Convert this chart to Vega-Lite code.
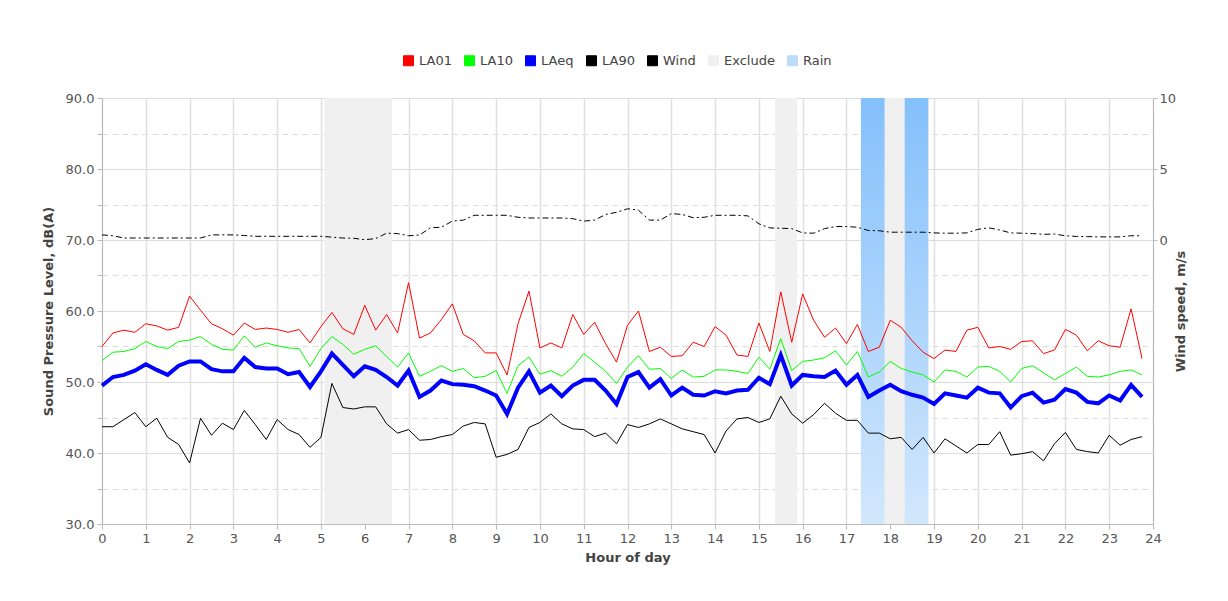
{
  "$schema": "https://vega.github.io/schema/vega-lite/v6.json",
  "width": 1051,
  "height": 426,
  "autosize": {"type": "none"},
  "padding": {"left": 102, "top": 98, "right": 75, "bottom": 77},
  "background": "white",
  "config": {
    "font": "DejaVu Sans",
    "view": {"stroke": null},
    "legend": {"symbolStrokeColor": "#444", "symbolStrokeWidth": 1, "symbolType": "square", "symbolSize": 100}
  },
  "datasets": {
    "periods": [
      {"type": "Exclude", "start": 5.08, "end": 6.62},
      {"type": "Exclude", "start": 15.37, "end": 15.87},
      {"type": "Exclude", "start": 17.33, "end": 18.87},
      {"type": "Rain", "start": 17.33, "end": 17.87},
      {"type": "Rain", "start": 18.33, "end": 18.87}
    ],
    "levels": [
      {"hour": 0.0, "LA01": 55.0, "LA10": 53.0, "LAeq": 49.5, "LA90": 43.7, "Wind": 0.36},
      {"hour": 0.25, "LA01": 56.9, "LA10": 54.2, "LAeq": 50.7, "LA90": 43.7, "Wind": 0.3},
      {"hour": 0.5, "LA01": 57.3, "LA10": 54.3, "LAeq": 51.0, "LA90": 44.7, "Wind": 0.14},
      {"hour": 0.75, "LA01": 57.0, "LA10": 54.7, "LAeq": 51.6, "LA90": 45.7, "Wind": 0.14},
      {"hour": 1.0, "LA01": 58.2, "LA10": 55.7, "LAeq": 52.5, "LA90": 43.7, "Wind": 0.14},
      {"hour": 1.25, "LA01": 57.9, "LA10": 55.0, "LAeq": 51.7, "LA90": 44.9, "Wind": 0.14},
      {"hour": 1.5, "LA01": 57.3, "LA10": 54.7, "LAeq": 51.0, "LA90": 42.2, "Wind": 0.14},
      {"hour": 1.75, "LA01": 57.7, "LA10": 55.7, "LAeq": 52.3, "LA90": 41.2, "Wind": 0.14},
      {"hour": 2.0, "LA01": 62.1, "LA10": 55.9, "LAeq": 52.9, "LA90": 38.6, "Wind": 0.14},
      {"hour": 2.25, "LA01": 60.1, "LA10": 56.4, "LAeq": 52.9, "LA90": 44.9, "Wind": 0.14},
      {"hour": 2.5, "LA01": 58.2, "LA10": 55.3, "LAeq": 51.8, "LA90": 42.5, "Wind": 0.36},
      {"hour": 2.75, "LA01": 57.5, "LA10": 54.6, "LAeq": 51.5, "LA90": 44.2, "Wind": 0.36},
      {"hour": 3.0, "LA01": 56.6, "LA10": 54.5, "LAeq": 51.5, "LA90": 43.3, "Wind": 0.36},
      {"hour": 3.25, "LA01": 58.3, "LA10": 56.5, "LAeq": 53.4, "LA90": 46.0, "Wind": 0.32},
      {"hour": 3.5, "LA01": 57.4, "LA10": 54.9, "LAeq": 52.1, "LA90": 44.0, "Wind": 0.26},
      {"hour": 3.75, "LA01": 57.6, "LA10": 55.5, "LAeq": 51.9, "LA90": 41.9, "Wind": 0.26},
      {"hour": 4.0, "LA01": 57.4, "LA10": 55.1, "LAeq": 51.9, "LA90": 44.7, "Wind": 0.26},
      {"hour": 4.25, "LA01": 57.0, "LA10": 54.8, "LAeq": 51.1, "LA90": 43.3, "Wind": 0.26},
      {"hour": 4.5, "LA01": 57.4, "LA10": 54.7, "LAeq": 51.4, "LA90": 42.6, "Wind": 0.26},
      {"hour": 4.75, "LA01": 55.5, "LA10": 52.2, "LAeq": 49.3, "LA90": 40.8, "Wind": 0.26},
      {"hour": 5.0, "LA01": 57.8, "LA10": 54.7, "LAeq": 51.5, "LA90": 42.2, "Wind": 0.26},
      {"hour": 5.25, "LA01": 59.8, "LA10": 56.4, "LAeq": 54.0, "LA90": 49.8, "Wind": 0.2},
      {"hour": 5.5, "LA01": 57.5, "LA10": 55.3, "LAeq": 52.4, "LA90": 46.4, "Wind": 0.14},
      {"hour": 5.75, "LA01": 56.7, "LA10": 53.9, "LAeq": 50.8, "LA90": 46.2, "Wind": 0.12},
      {"hour": 6.0, "LA01": 60.8, "LA10": 54.6, "LAeq": 52.2, "LA90": 46.5, "Wind": 0.02},
      {"hour": 6.25, "LA01": 57.3, "LA10": 55.1, "LAeq": 51.7, "LA90": 46.5, "Wind": 0.1},
      {"hour": 6.5, "LA01": 59.5, "LA10": 53.6, "LAeq": 50.7, "LA90": 44.1, "Wind": 0.48},
      {"hour": 6.75, "LA01": 56.9, "LA10": 52.1, "LAeq": 49.5, "LA90": 42.8, "Wind": 0.45},
      {"hour": 7.0, "LA01": 64.0, "LA10": 54.1, "LAeq": 51.6, "LA90": 43.3, "Wind": 0.3},
      {"hour": 7.25, "LA01": 56.2, "LA10": 50.8, "LAeq": 47.9, "LA90": 41.8, "Wind": 0.35},
      {"hour": 7.5, "LA01": 56.9, "LA10": 51.5, "LAeq": 48.8, "LA90": 41.9, "Wind": 0.86},
      {"hour": 7.75, "LA01": 58.8, "LA10": 52.3, "LAeq": 50.2, "LA90": 42.3, "Wind": 0.9},
      {"hour": 8.0, "LA01": 61.0, "LA10": 51.5, "LAeq": 49.7, "LA90": 42.6, "Wind": 1.33},
      {"hour": 8.25, "LA01": 56.7, "LA10": 51.9, "LAeq": 49.6, "LA90": 43.8, "Wind": 1.4},
      {"hour": 8.5, "LA01": 55.8, "LA10": 50.6, "LAeq": 49.4, "LA90": 44.3, "Wind": 1.74},
      {"hour": 8.75, "LA01": 54.1, "LA10": 50.8, "LAeq": 48.8, "LA90": 44.1, "Wind": 1.74},
      {"hour": 9.0, "LA01": 54.1, "LA10": 51.6, "LAeq": 48.1, "LA90": 39.4, "Wind": 1.74},
      {"hour": 9.25, "LA01": 51.0, "LA10": 48.4, "LAeq": 45.5, "LA90": 39.8, "Wind": 1.74},
      {"hour": 9.5, "LA01": 58.2, "LA10": 52.3, "LAeq": 49.2, "LA90": 40.5, "Wind": 1.6},
      {"hour": 9.75, "LA01": 62.8, "LA10": 53.5, "LAeq": 51.5, "LA90": 43.6, "Wind": 1.55},
      {"hour": 10.0, "LA01": 54.8, "LA10": 51.1, "LAeq": 48.5, "LA90": 44.3, "Wind": 1.55},
      {"hour": 10.25, "LA01": 55.5, "LA10": 51.6, "LAeq": 49.5, "LA90": 45.5, "Wind": 1.55},
      {"hour": 10.5, "LA01": 54.8, "LA10": 50.8, "LAeq": 48.0, "LA90": 44.1, "Wind": 1.55},
      {"hour": 10.75, "LA01": 59.5, "LA10": 52.1, "LAeq": 49.5, "LA90": 43.4, "Wind": 1.5},
      {"hour": 11.0, "LA01": 56.7, "LA10": 54.0, "LAeq": 50.3, "LA90": 43.3, "Wind": 1.33},
      {"hour": 11.25, "LA01": 58.4, "LA10": 52.8, "LAeq": 50.3, "LA90": 42.3, "Wind": 1.4},
      {"hour": 11.5, "LA01": 55.4, "LA10": 51.5, "LAeq": 48.8, "LA90": 42.8, "Wind": 1.8},
      {"hour": 11.75, "LA01": 52.8, "LA10": 49.8, "LAeq": 46.9, "LA90": 41.3, "Wind": 1.95},
      {"hour": 12.0, "LA01": 58.0, "LA10": 52.1, "LAeq": 50.7, "LA90": 44.0, "Wind": 2.2},
      {"hour": 12.25, "LA01": 60.0, "LA10": 53.7, "LAeq": 51.4, "LA90": 43.6, "Wind": 2.1},
      {"hour": 12.5, "LA01": 54.3, "LA10": 51.8, "LAeq": 49.2, "LA90": 44.1, "Wind": 1.4},
      {"hour": 12.75, "LA01": 54.9, "LA10": 51.9, "LAeq": 50.4, "LA90": 44.8, "Wind": 1.4},
      {"hour": 13.0, "LA01": 53.6, "LA10": 50.5, "LAeq": 48.1, "LA90": 44.1, "Wind": 1.86},
      {"hour": 13.25, "LA01": 53.7, "LA10": 51.7, "LAeq": 49.2, "LA90": 43.4, "Wind": 1.8},
      {"hour": 13.5, "LA01": 55.6, "LA10": 50.7, "LAeq": 48.2, "LA90": 43.0, "Wind": 1.57},
      {"hour": 13.75, "LA01": 55.0, "LA10": 50.8, "LAeq": 48.1, "LA90": 42.6, "Wind": 1.6},
      {"hour": 14.0, "LA01": 57.8, "LA10": 51.7, "LAeq": 48.7, "LA90": 40.0, "Wind": 1.74},
      {"hour": 14.25, "LA01": 56.6, "LA10": 51.7, "LAeq": 48.4, "LA90": 43.1, "Wind": 1.74},
      {"hour": 14.5, "LA01": 53.8, "LA10": 51.5, "LAeq": 48.8, "LA90": 44.8, "Wind": 1.74},
      {"hour": 14.75, "LA01": 53.6, "LA10": 51.2, "LAeq": 48.9, "LA90": 45.0, "Wind": 1.7},
      {"hour": 15.0, "LA01": 58.3, "LA10": 53.5, "LAeq": 50.6, "LA90": 44.3, "Wind": 1.14},
      {"hour": 15.25, "LA01": 54.3, "LA10": 51.8, "LAeq": 49.7, "LA90": 44.8, "Wind": 0.85},
      {"hour": 15.5, "LA01": 62.7, "LA10": 56.1, "LAeq": 53.8, "LA90": 48.0, "Wind": 0.83},
      {"hour": 15.75, "LA01": 55.6, "LA10": 51.6, "LAeq": 49.5, "LA90": 45.5, "Wind": 0.8},
      {"hour": 16.0, "LA01": 62.4, "LA10": 52.9, "LAeq": 51.0, "LA90": 44.2, "Wind": 0.5},
      {"hour": 16.25, "LA01": 58.7, "LA10": 53.1, "LAeq": 50.8, "LA90": 45.4, "Wind": 0.48},
      {"hour": 16.5, "LA01": 56.3, "LA10": 53.4, "LAeq": 50.7, "LA90": 47.0, "Wind": 0.8},
      {"hour": 16.75, "LA01": 57.6, "LA10": 54.4, "LAeq": 51.6, "LA90": 45.6, "Wind": 0.95},
      {"hour": 17.0, "LA01": 55.4, "LA10": 52.4, "LAeq": 49.6, "LA90": 44.6, "Wind": 0.95},
      {"hour": 17.25, "LA01": 58.1, "LA10": 54.3, "LAeq": 51.0, "LA90": 44.6, "Wind": 0.9},
      {"hour": 17.5, "LA01": 54.3, "LA10": 50.7, "LAeq": 47.9, "LA90": 42.8, "Wind": 0.67},
      {"hour": 17.75, "LA01": 54.9, "LA10": 51.4, "LAeq": 48.8, "LA90": 42.8, "Wind": 0.65},
      {"hour": 18.0, "LA01": 58.7, "LA10": 52.9, "LAeq": 49.6, "LA90": 42.0, "Wind": 0.55},
      {"hour": 18.25, "LA01": 57.7, "LA10": 51.9, "LAeq": 48.7, "LA90": 42.2, "Wind": 0.55},
      {"hour": 18.5, "LA01": 55.8, "LA10": 51.4, "LAeq": 48.2, "LA90": 40.5, "Wind": 0.55},
      {"hour": 18.75, "LA01": 54.2, "LA10": 51.0, "LAeq": 47.8, "LA90": 42.2, "Wind": 0.55},
      {"hour": 19.0, "LA01": 53.3, "LA10": 50.0, "LAeq": 46.9, "LA90": 40.0, "Wind": 0.5},
      {"hour": 19.25, "LA01": 54.5, "LA10": 51.7, "LAeq": 48.4, "LA90": 42.0, "Wind": 0.48},
      {"hour": 19.5, "LA01": 54.3, "LA10": 51.5, "LAeq": 48.1, "LA90": 41.0, "Wind": 0.48},
      {"hour": 19.75, "LA01": 57.3, "LA10": 50.7, "LAeq": 47.8, "LA90": 40.0, "Wind": 0.5},
      {"hour": 20.0, "LA01": 57.7, "LA10": 52.1, "LAeq": 49.2, "LA90": 41.2, "Wind": 0.75},
      {"hour": 20.25, "LA01": 54.8, "LA10": 52.2, "LAeq": 48.5, "LA90": 41.2, "Wind": 0.86},
      {"hour": 20.5, "LA01": 55.0, "LA10": 51.5, "LAeq": 48.4, "LA90": 43.0, "Wind": 0.7},
      {"hour": 20.75, "LA01": 54.6, "LA10": 50.0, "LAeq": 46.4, "LA90": 39.7, "Wind": 0.5},
      {"hour": 21.0, "LA01": 55.7, "LA10": 51.9, "LAeq": 48.0, "LA90": 39.9, "Wind": 0.48},
      {"hour": 21.25, "LA01": 55.8, "LA10": 52.3, "LAeq": 48.5, "LA90": 40.2, "Wind": 0.45},
      {"hour": 21.5, "LA01": 54.0, "LA10": 51.3, "LAeq": 47.1, "LA90": 38.9, "Wind": 0.4},
      {"hour": 21.75, "LA01": 54.5, "LA10": 50.3, "LAeq": 47.5, "LA90": 41.3, "Wind": 0.42},
      {"hour": 22.0, "LA01": 57.4, "LA10": 51.2, "LAeq": 49.0, "LA90": 42.9, "Wind": 0.3},
      {"hour": 22.25, "LA01": 56.6, "LA10": 52.1, "LAeq": 48.5, "LA90": 40.5, "Wind": 0.25},
      {"hour": 22.5, "LA01": 54.4, "LA10": 50.8, "LAeq": 47.2, "LA90": 40.2, "Wind": 0.24},
      {"hour": 22.75, "LA01": 55.8, "LA10": 50.7, "LAeq": 47.0, "LA90": 40.0, "Wind": 0.22},
      {"hour": 23.0, "LA01": 55.1, "LA10": 51.0, "LAeq": 48.1, "LA90": 42.5, "Wind": 0.22},
      {"hour": 23.25, "LA01": 54.9, "LA10": 51.5, "LAeq": 47.4, "LA90": 41.1, "Wind": 0.22},
      {"hour": 23.5, "LA01": 60.3, "LA10": 51.7, "LAeq": 49.6, "LA90": 41.9, "Wind": 0.3},
      {"hour": 23.75, "LA01": 53.3, "LA10": 51.0, "LAeq": 47.9, "LA90": 42.3, "Wind": 0.3}
    ]
  },
  "layer": [
    {
      "data": {"name": "periods"},
      "transform": [{"filter": "datum.type === 'Exclude'"}],
      "mark": {"type": "rect"},
      "encoding": {
        "x": {
          "field": "start", "type": "quantitative",
          "scale": {"domain": [0, 24], "nice": false, "zero": false},
          "axis": {
            "values": [0,1,2,3,4,5,6,7,8,9,10,11,12,13,14,15,16,17,18,19,20,21,22,23,24],
            "format": "d", "title": "Hour of day",
            "titleFontWeight": "bold", "titleFontSize": 13, "titleColor": "#444", "titlePadding": 6,
            "labelFontSize": 13, "labelColor": "#555", "labelPadding": 3, "labelFlush": false,
            "grid": true, "gridColor": "#e0e0e0", "gridWidth": 1.5,
            "tickColor": "#bbb", "tickSize": 5, "domainColor": "#bbb"
          }
        },
        "x2": {"field": "end"},
        "color": {
          "field": "type", "type": "nominal",
          "scale": {
            "domain": ["LA01", "LA10", "LAeq", "LA90", "Wind", "Exclude", "Rain"],
            "range": ["#ff0000", "#00ff00", "#0000ff", "#000000", "#000000", "#f0f0f0", "#bcdcfa"]
          },
          "legend": {
            "title": null, "orient": "none", "legendX": 300, "legendY": -44,
            "direction": "horizontal", "symbolType": "square", "symbolSize": 100,
            "symbolStrokeColor": "#444", "symbolStrokeWidth": 1,
            "labelFontSize": 13, "labelColor": "#444", "columnPadding": 10, "labelOffset": 4, "padding": 0,
            "encode": {"symbols": {"update": {"fill": {"scale": "color", "field": "value"}, "stroke": {"value": "#444"}, "strokeWidth": {"value": 1}, "opacity": {"value": 1}}}}
          }
        }
      }
    },
    {
      "data": {"name": "periods"},
      "transform": [{"filter": "datum.type === 'Rain'"}],
      "mark": {
        "type": "rect",
        "fill": {"gradient": "linear", "x1": 0, "y1": 0, "x2": 0, "y2": 1,
          "stops": [{"offset": 0, "color": "#84c0fb"}, {"offset": 1, "color": "#d2e7fc"}]}
      },
      "encoding": {
        "x": {"field": "start", "type": "quantitative"},
        "x2": {"field": "end"}
      }
    },
    {
      "data": {"name": "levels"},
      "transform": [{"fold": ["LA01", "LA10", "LAeq", "LA90"], "as": ["series", "value"]}],
      "mark": {"type": "line"},
      "encoding": {
        "x": {"field": "hour", "type": "quantitative"},
        "y": {
          "field": "value", "type": "quantitative",
          "scale": {"domain": [30, 90], "nice": false, "zero": false},
          "axis": {
            "orient": "left",
            "values": [30,35,40,45,50,55,60,65,70,75,80,85,90],
            "labelExpr": "datum.value % 10 === 0 ? format(datum.value, '.1f') : ''",
            "title": "Sound Pressure Level, dB(A)",
            "titleFontWeight": "bold", "titleFontSize": 13, "titleColor": "#444", "titlePadding": 10,
            "labelFontSize": 13, "labelColor": "#555", "labelPadding": 3,
            "grid": true, "gridColor": "#dddddd",
            "gridDash": {"condition": {"test": "datum.value % 10 !== 0", "value": [6, 4]}, "value": []},
            "tickColor": "#bbb", "tickSize": 5, "domainColor": "#bbb"
          }
        },
        "color": {
          "field": "series", "type": "nominal",
          "legend": {
            "title": null, "orient": "none", "legendX": 300, "legendY": -44,
            "direction": "horizontal", "symbolType": "square", "symbolSize": 100,
            "symbolStrokeColor": "#444", "symbolStrokeWidth": 1,
            "labelFontSize": 13, "labelColor": "#444", "columnPadding": 10, "labelOffset": 4, "padding": 0,
            "encode": {"symbols": {"update": {"fill": {"scale": "color", "field": "value"}, "stroke": {"value": "#444"}, "strokeWidth": {"value": 1}, "opacity": {"value": 1}}}}
          }
        },
        "strokeWidth": {"condition": {"test": "datum.series === 'LAeq'", "value": 4}, "value": 1}
      }
    },
    {
      "data": {"name": "levels"},
      "mark": {"type": "line", "strokeDash": [6, 3, 2, 3], "strokeWidth": 1},
      "encoding": {
        "x": {"field": "hour", "type": "quantitative"},
        "y": {
          "field": "Wind", "type": "quantitative",
          "scale": {"domain": [-20, 10], "nice": false, "zero": false},
          "axis": {
            "orient": "right", "values": [0, 5, 10], "grid": false,
            "title": "Wind speed, m/s", "titleAngle": 270,
            "titleFontWeight": "bold", "titleFontSize": 13, "titleColor": "#444", "titlePadding": 12,
            "labelFontSize": 13, "labelColor": "#555", "labelPadding": 2,
            "tickColor": "#bbb", "tickSize": 4, "domainColor": "#bbb"
          }
        },
        "color": {
          "datum": "Wind", "type": "nominal",
          "legend": {
            "title": null, "orient": "none", "legendX": 300, "legendY": -44,
            "direction": "horizontal", "symbolType": "square", "symbolSize": 100,
            "symbolStrokeColor": "#444", "symbolStrokeWidth": 1,
            "labelFontSize": 13, "labelColor": "#444", "columnPadding": 10, "labelOffset": 4, "padding": 0,
            "encode": {"symbols": {"update": {"fill": {"scale": "color", "field": "value"}, "stroke": {"value": "#444"}, "strokeWidth": {"value": 1}, "opacity": {"value": 1}}}}
          }
        }
      }
    }
  ],
  "resolve": {"scale": {"y": "independent"}}
}
